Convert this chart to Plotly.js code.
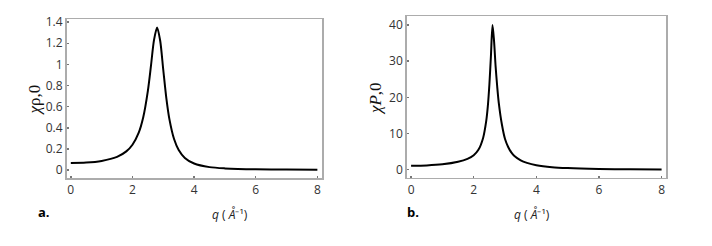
<!DOCTYPE html>
<html>
<head>
<meta charset="utf-8">
<script src="https://cdn.plot.ly/plotly-3.0.1.min.js"></script>
<style>html,body{margin:0;padding:0;background:#fff;}#chart{width:712px;height:246px;}</style>
</head>
<body>
<div id="chart"></div>
<script>
// Panel a: chi_rho,0 vs q
const qA = [0, 0.5, 1.0, 1.5, 1.8, 2.0, 2.2, 2.35, 2.5, 2.6, 2.7, 2.8, 2.9, 3.0, 3.1, 3.2, 3.35, 3.5, 3.7, 4.0, 4.5, 5, 6, 7, 8];
const chiRho = [0.066, 0.070, 0.086, 0.124, 0.176, 0.239, 0.351, 0.500, 0.750, 0.986, 1.232, 1.350, 1.224, 0.947, 0.678, 0.479, 0.293, 0.189, 0.114, 0.061, 0.027, 0.015, 0.006, 0.004, 0.003];
// Panel b: chi_P,0 vs q
const qB = [0, 0.5, 1.0, 1.5, 1.8, 2.0, 2.15, 2.3, 2.4, 2.45, 2.5, 2.55, 2.6, 2.65, 2.7, 2.75, 2.8, 2.9, 3.0, 3.1, 3.2, 3.3, 3.5, 3.7, 4.0, 4.5, 5, 6, 7, 8];
const chiP = [1.1, 1.2, 1.5, 2.2, 3.0, 4.0, 5.5, 8.8, 13.5, 17.5, 23.5, 31.5, 40, 35.5, 28.5, 23, 18.5, 12.5, 8.5, 6.3, 4.8, 3.8, 2.6, 1.9, 1.25, 0.7, 0.45, 0.22, 0.12, 0.07];
// Tick labels
const xTicks = [0, 2, 4, 6, 8];
const xTickText = ['0', '2', '4', '6', '8'];
const yTicksA = [0, 0.2, 0.4, 0.6, 0.8, 1, 1.2, 1.4];
const yTickTextA = ['0', '0.2', '0.4', '0.6', '0.8', '1', '1.2', '1.4'];
const yTicksB = [0, 10, 20, 30, 40];
const yTickTextB = ['0', '10', '20', '30', '40'];
const panelLabels = ['a.', 'b.'];
const yTitles = ['<i>χ</i>ρ,0', '<i>χ</i><i>P</i>,0'];
const xTitle = '<i>q</i> ( <i>Å</i>⁻¹)';

const W = 712, H = 246;
const tickFont = {family: 'Open Sans, sans-serif', size: 12, color: '#333'};
function xa(domain, anchor) {
  return {domain: domain, anchor: anchor, range: [-0.14, 8.15], tickvals: xTicks, ticktext: xTickText,
    showline: true, mirror: true, linecolor: '#acacac', linewidth: 1.5, ticks: 'inside', ticklen: 2, tickwidth: 1.5,
    tickcolor: '#777', showgrid: false, zeroline: false, tickfont: tickFont, fixedrange: true};
}
function ya(domain, anchor, range, tv, tt) {
  return {domain: domain, anchor: anchor, range: range, tickvals: tv, ticktext: tt,
    showline: true, mirror: true, linecolor: '#acacac', linewidth: 1.5, ticks: 'inside', ticklen: 2, tickwidth: 1.5,
    tickcolor: '#777', showgrid: false, zeroline: false, tickfont: tickFont, fixedrange: true};
}
const traces = [
  {x: qA, y: chiRho, xaxis: 'x', yaxis: 'y', mode: 'lines', line: {color: '#000', width: 2, shape: 'spline', smoothing: 0.8}, hoverinfo: 'skip'},
  {x: qB, y: chiP, xaxis: 'x2', yaxis: 'y2', mode: 'lines', line: {color: '#000', width: 2, shape: 'spline', smoothing: 0.8}, hoverinfo: 'skip'}
];
const px = v => v / W, py = v => 1 - v / H;
const layout = {
  width: W, height: H, margin: {l: 0, r: 0, t: 0, b: 0}, showlegend: false,
  paper_bgcolor: '#fff', plot_bgcolor: '#fff',
  xaxis: xa([px(66.5), px(322)], 'y'),
  yaxis: ya([py(178), py(19)], 'x', [-0.076, 1.43], yTicksA, yTickTextA),
  xaxis2: xa([px(406.7), px(666.3)], 'y2'),
  yaxis2: ya([py(177.7), py(16)], 'x2', [-2.2, 42.5], yTicksB, yTickTextB),
  annotations: [
    {text: yTitles[0], x: px(22), y: py(100), xref: 'paper', yref: 'paper', textangle: -90, showarrow: false, font: {family: 'Liberation Serif, serif', size: 17, color: '#111'}},
    {text: yTitles[1], x: px(375), y: py(99), xref: 'paper', yref: 'paper', textangle: -90, showarrow: false, font: {family: 'Liberation Serif, serif', size: 17, color: '#111'}},
    {text: xTitle, x: px(210), y: py(214), xref: 'paper', yref: 'paper', yanchor: 'middle', showarrow: false, font: {family: 'Open Sans, sans-serif', size: 12, color: '#222'}},
    {text: xTitle, x: px(552), y: py(214), xref: 'paper', yref: 'paper', yanchor: 'middle', showarrow: false, font: {family: 'Open Sans, sans-serif', size: 12, color: '#222'}},
    {text: '<b>' + panelLabels[0] + '</b>', x: px(36), y: py(223), xref: 'paper', yref: 'paper', showarrow: false, font: {family: 'Open Sans, sans-serif', size: 13, color: '#000'}},
    {text: '<b>' + panelLabels[1] + '</b>', x: px(413), y: py(223), xref: 'paper', yref: 'paper', showarrow: false, font: {family: 'Open Sans, sans-serif', size: 13, color: '#000'}}
  ]
};
Plotly.newPlot('chart', traces, layout, {staticPlot: true, displayModeBar: false});
</script>
</body>
</html>
